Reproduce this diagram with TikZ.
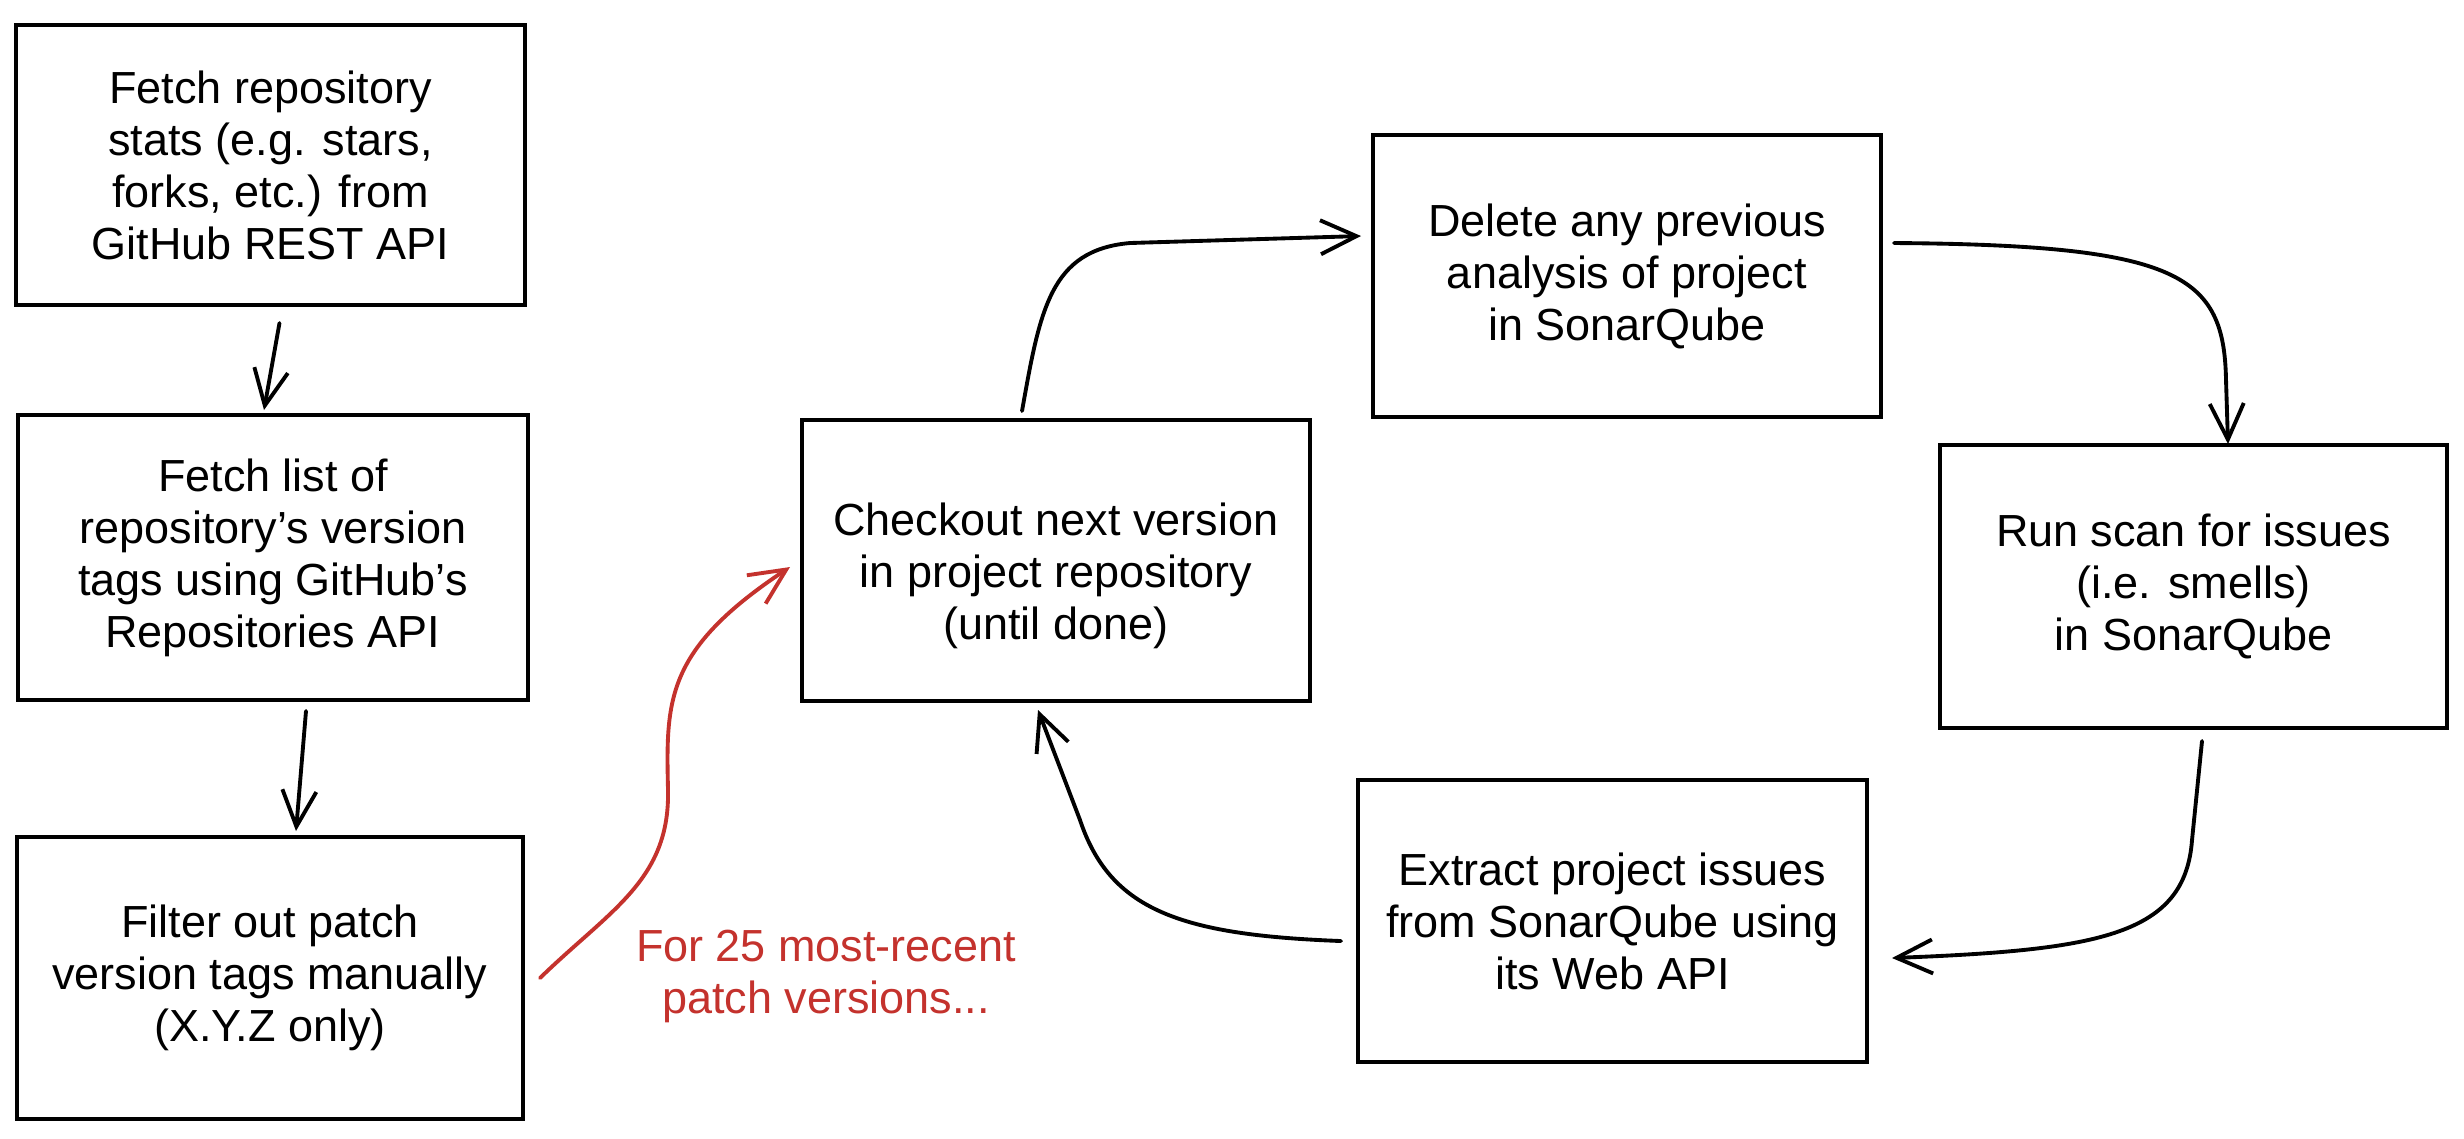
\documentclass[tikz,border=0pt]{standalone}
\usepackage{fontspec}
\setmainfont{Liberation Sans}
\usetikzlibrary{arrows.meta,calc}
\definecolor{redink}{RGB}{196,50,45}
\begin{document}
\begin{tikzpicture}[x=0.1mm,y=-0.1mm,
  txt/.style={font=\fontsize{12.8pt}{14.8pt}\selectfont, align=center},
  box/.style={txt, draw=black, line width=0.9pt, minimum width=50.8mm, minimum height=28.2mm, inner sep=0pt, outer sep=0pt},
  conn/.style={line width=1.1pt, line cap=round, line join=round, -{Straight Barb[length=3.6mm,width=3.4mm]}}]
\fill[white] (0,0) rectangle (2464,1138);

\node[box, minimum width=50.9mm, minimum height=28mm] (b1) at (270.5,165) {Fetch repository\\stats (e.g. stars,\\forks, etc.) from\\GitHub REST API};
\node[box, minimum width=51mm, minimum height=28.5mm] (b2) at (273,557.5) {Fetch list of\\repository's version\\tags using GitHub's\\Repositories API};
\node[box, minimum width=50.6mm] (b3) at (270,978) {Filter out patch\\version tags manually\\(X.Y.Z only)};
\node[box, minimum height=28.1mm] (b4) at (1056,560.5) {};
\node[txt] (b4t) at (1056,576) {Checkout next version\\in project repository\\(until done)};
\node[box] (b5) at (1627,276) {Delete any previous\\analysis of project\\in SonarQube};
\node[box, minimum width=50.7mm, minimum height=28.3mm] (b6) at (2193.5,586.5) {Run scan for issues\\(i.e. smells)\\in SonarQube};
\node[box, minimum width=50.9mm] (b7) at (1612.5,921) {Extract project issues\\from SonarQube using\\its Web API};

\node[txt, text=redink] (lbl) at (826,976) {For 25 most-recent\\patch versions...};

% left column
\draw[conn] ($(b1.south)+(9,18)$) -- ($(b2.north)+(-9,-5)$);
\draw[conn] ($(b2.south)+(33,11)$) -- ($(b3.north)+(26,-6)$);

% red loop entry
\draw[conn, draw=redink] ($(b3.east)+(17,0)$) .. controls (610,910) and (670,880) .. (668,790)
  .. controls (666,700) and (665,650) .. ($(b4.west)+(-12,6.5)$);

% loop
\draw[conn] ($(b4.north)+(-34,-9)$) .. controls (1040,310) and (1050,250) .. (1130,243) -- ($(b5.west)+(-12,-40)$);
\draw[conn] ($(b5.east)+(13,-33)$) .. controls (2180,245) and (2224,275) .. (2226,380) -- ($(b6.north)+(34.5,-1)$);
\draw[conn] ($(b6.south)+(8.5,13)$) -- (2192,840) .. controls (2185,935) and (2100,950) .. ($(b7.east)+(25,37)$);
\draw[conn] ($(b7.west)+(-17,20)$) .. controls (1180,935) and (1110,910) .. (1080,820) -- ($(b4.south)+(-18,9)$);
\end{tikzpicture}
\end{document}
